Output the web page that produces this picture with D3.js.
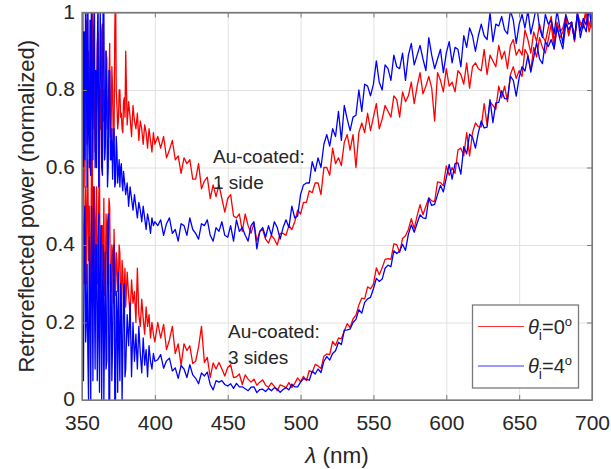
<!DOCTYPE html>
<html>
<head>
<meta charset="utf-8">
<script src="https://cdn.jsdelivr.net/npm/d3@7"></script>
<style>
  body { margin: 0; background: #fff; }
  svg text { font-family: "Liberation Sans", Arial, Helvetica, sans-serif; fill: #262626; }
</style>
</head>
<body>
<svg id="chart"></svg>
<script>
// Canvas size
const width = 611;
const height = 469;

// Wavelength grid of the spectra (finer where the signal is noisiest)
const wavelength = d3.range(350, 380, 0.5)
    .concat(d3.range(380, 400, 1))
    .concat(d3.range(400, 701, 2));

// Au-coated on 1 side, theta_i = 0 deg (red)
const oneSide0 = [
  .93,.7,.62,.85,.55,.78,.98,.66,.7,.9,
  .82,.6,.58,.88,1.02,.7,.9,.75,.64,.85,
  .75,.92,.95,.68,.6,.8,.7,.95,.97,.72,
  .8,.62,.66,.9,.88,.7,.74,.82,.92,.68,
  .7,.86,.8,.66,.68,.95,1.08,.8,.76,.7,
  .72,.8,.8,.73,.74,.7,.69,.77,.78,.73,
  .9,.71,.77,.73,.68,.76,.72,.7,.74,.67,
  .72,.7,.66,.71,.69,.65,.7,.67,.64,.69,
  .66,
  .68,.65,.68,.625,.645,.67,.62,.63,.585,.625,
  .61,.62,.57,.57,.61,.545,.565,.575,.52,.555,
  .525,.555,.52,.485,.52,.53,.475,.47,.48,.435,
  .48,.45,.43,.455,.41,.435,.44,.415,.405,.425,
  .415,.40,.43,.43,.425,.45,.44,.46,.49,.48,
  .51,.51,.54,.535,.56,.56,.53,.60,.60,.58,
  .65,.61,.625,.605,.665,.685,.645,.685,.60,.69,
  .715,.69,.74,.695,.73,.765,.70,.725,.76,.745,
  .73,.785,.775,.73,.795,.77,.785,.82,.765,.81,
  .845,.79,.81,.835,.805,.72,.845,.825,.795,.855,
  .81,.82,.795,.85,.84,.815,.87,.805,.86,.87,
  .855,.85,.905,.84,.89,.875,.86,.915,.88,.90,
  .855,.915,.93,.89,.905,.89,.955,.93,.895,.95,
  .925,.97,.94,.925,.96,.99,.925,.975,.95,.96,
  .99,.945,.975,.925,.99,.97,.96,1.0,.95,.98
];

// Au-coated on 1 side, theta_i = 4 deg (blue)
const oneSide4 = [
  .85,1.05,.6,.95,.62,1.1,.9,.55,1.08,.7,
  .6,.98,.58,1.1,.8,.62,.95,1.05,.6,.85,
  .6,.9,1.05,.55,.72,1.0,.9,.6,.58,1.05,
  1.02,.62,.66,.9,.78,.55,.6,.85,.85,.62,
  .62,.7,.57,.66,.7,.55,.56,.68,.64,.56,
  .59,.62,.55,.6,.61,.56,.54,.59,.57,.55,
  .53,.56,.5,.55,.52,.49,.53,.5,.47,.51,
  .49,.46,.5,.47,.44,.48,.46,.43,.47,.45,
  .46,
  .45,.465,.425,.455,.47,.43,.44,.41,.455,.45,
  .425,.47,.44,.43,.415,.455,.45,.465,.425,.41,
  .445,.435,.46,.425,.42,.45,.41,.465,.435,.445,
  .425,.41,.45,.46,.39,.435,.445,.42,.45,.425,
  .46,.445,.415,.445,.465,.445,.50,.47,.475,.53,
  .555,.56,.56,.615,.59,.625,.60,.66,.685,.655,
  .70,.68,.745,.67,.76,.725,.695,.73,.735,.80,
  .745,.815,.81,.785,.815,.875,.82,.80,.865,.855,
  .825,.89,.86,.855,.895,.825,.89,.92,.865,.89,
  .915,.88,.85,.935,.89,.855,.88,.905,.845,.895,
  .925,.87,.91,.905,.86,.94,.91,.96,.94,.90,
  .94,.97,.94,.93,1.0,.925,.97,.965,.99,.955,
  .945,1.005,.98,.92,.97,.995,.96,1.005,.945,.98,
  1.02,.96,.935,.995,.97,.98,.945,1.005,.96,.92,
  .995,.97,.975,.93,1.0,.935,.97,.95,1.01,.96
];

// Au-coated on 3 sides, theta_i = 0 deg (red)
const threeSides0 = [
  .45,.62,.7,.3,.38,.55,.3,.5,.62,.36,
  .5,.25,.35,.6,.68,.3,.42,.55,.28,.45,
  .55,.3,.36,.52,.6,.28,.3,.45,.45,.32,
  .52,.27,.3,.48,.42,.3,.35,.52,.5,.3,
  .28,.4,.38,.25,.44,.34,.27,.38,.36,.28,
  .31,.4,.38,.26,.26,.36,.33,.24,.29,.34,
  .24,.33,.27,.22,.31,.25,.28,.2,.34,.22,
  .19,.26,.21,.17,.24,.19,.22,.16,.2,.17,
  .15,
  .20,.16,.195,.13,.155,.19,.12,.145,.09,.145,
  .128,.14,.094,.10,.137,.19,.097,.11,.058,.096,
  .08,.097,.08,.062,.084,.091,.058,.06,.067,.04,
  .065,.054,.046,.054,.038,.046,.052,.038,.033,.044,
  .035,.024,.039,.036,.032,.045,.032,.043,.057,.047,
  .061,.05,.076,.071,.092,.088,.081,.113,.119,.117,
  .151,.141,.16,.158,.178,.197,.187,.209,.219,.245,
  .263,.261,.292,.287,.299,.341,.323,.341,.363,.365,
  .363,.403,.401,.381,.417,.424,.44,.468,.442,.476,
  .504,.478,.50,.522,.514,.512,.563,.561,.553,.604,
  .58,.60,.585,.645,.65,.63,.69,.63,.69,.715,
  .705,.705,.765,.71,.77,.76,.75,.81,.78,.81,
  .77,.84,.86,.83,.85,.835,.905,.89,.85,.91,
  .885,.935,.91,.895,.93,.97,.905,.96,.935,.95,
  .985,.94,.975,.93,.995,.975,.97,1.01,.965,.995
];

// Au-coated on 3 sides, theta_i = 4 deg (blue)
const threeSides4 = [
  .3,.1,.05,.45,.5,.15,.2,.35,.12,0,
  .42,.25,0,.5,.35,.05,.55,.3,.08,.4,
  .4,.05,.18,.48,.02,.3,.45,0,.25,.4,
  0,.2,.38,.08,.1,.45,.48,0,0,.35,
  .3,.05,.15,.38,.4,0,0,.28,.22,.02,
  .33,.15,.05,.3,.25,0,.12,.28,.3,.06,
  .08,.22,.14,.25,.06,.2,.1,.17,.08,.19,
  .12,.07,.16,.09,.13,.06,.14,.1,.08,.12,
  .1,
  .104,.117,.082,.101,.108,.075,.083,.056,.089,.08,
  .058,.091,.065,.056,.042,.07,.062,.072,.04,.026,
  .05,.046,.05,.04,.036,.042,.03,.043,.034,.034,
  .029,.024,.033,.034,.019,.027,.028,.022,.03,.024,
  .032,.028,.02,.027,.032,.026,.041,.034,.034,.046,
  .055,.053,.051,.075,.067,.08,.071,.10,.112,.103,
  .12,.127,.149,.143,.18,.181,.183,.20,.208,.233,
  .224,.252,.261,.265,.287,.314,.306,.312,.34,.348,
  .344,.385,.378,.384,.402,.386,.428,.452,.433,.456,
  .478,.47,.468,.52,.502,.505,.53,.554,.537,.573,
  .608,.57,.61,.612,.583,.654,.635,.686,.678,.65,
  .69,.72,.702,.704,.775,.716,.767,.768,.798,.778,
  .777,.836,.825,.784,.832,.86,.849,.888,.846,.884,
  .922,.88,.868,.925,.912,.93,.907,.964,.93,.906,
  .971,.956,.97,.934,.998,.952,.985,.968,1.02,.982
];

// Tick values
const xTicks = [350, 400, 450, 500, 550, 600, 650, 700];
const yTicks = [0, 0.2, 0.4, 0.6, 0.8, 1];

// Plot area
const margin = { top: 12.5, right: 19, bottom: 69, left: 82 };
const plotW = width - margin.left - margin.right;
const plotH = height - margin.top - margin.bottom;

const svg = d3.select("#chart")
    .attr("width", width)
    .attr("height", height);

const g = svg.append("g")
    .attr("transform", `translate(${margin.left},${margin.top})`);

const x = d3.scaleLinear().domain([350, 700]).range([0, plotW]);
const y = d3.scaleLinear().domain([0, 1]).range([plotH, 0]);

// Grid lines
g.append("g")
    .attr("class", "grid")
    .attr("transform", `translate(0,${plotH})`)
    .call(d3.axisBottom(x).tickValues(xTicks).tickSize(-plotH).tickFormat(""));
g.append("g")
    .attr("class", "grid")
    .call(d3.axisLeft(y).tickValues(yTicks).tickSize(-plotW).tickFormat(""));
g.selectAll(".grid .domain").remove();
g.selectAll(".grid line").attr("stroke", "#e2e2e2").attr("stroke-width", 1);

// Clip the spectra to the axes box
g.append("clipPath").attr("id", "clip")
  .append("rect").attr("width", plotW).attr("height", plotH);

const line = d3.line()
    .x((d, i) => x(wavelength[i]))
    .y(d => y(d));

const series = [
    { values: oneSide0, color: "#ff0000" },
    { values: threeSides0, color: "#ff0000" },
    { values: oneSide4, color: "#0000ff" },
    { values: threeSides4, color: "#0000ff" }
];

g.append("g").attr("clip-path", "url(#clip)")
  .selectAll("path")
  .data(series)
  .join("path")
    .attr("d", d => line(d.values))
    .attr("fill", "none")
    .attr("stroke", d => d.color)
    .attr("stroke-width", 1.3)
    .attr("stroke-linejoin", "round");

// Axes with inward ticks on all four sides
const axisColor = "#7a7a7a";
const fmt = d3.format("~g");

g.append("g")
    .attr("transform", `translate(0,${plotH})`)
    .call(d3.axisBottom(x).tickValues(xTicks).tickSizeInner(-5).tickSizeOuter(0).tickPadding(15));
g.append("g")
    .attr("class", "y-axis")
    .call(d3.axisLeft(y).tickValues(yTicks).tickFormat(fmt).tickSizeInner(-5).tickSizeOuter(0).tickPadding(7));
g.append("g")
    .call(d3.axisTop(x).tickValues(xTicks).tickSizeInner(-5).tickSizeOuter(0).tickFormat(""));
g.append("g")
    .attr("transform", `translate(${plotW},0)`)
    .call(d3.axisRight(y).tickValues(yTicks).tickSizeInner(-5).tickSizeOuter(0).tickFormat(""));

g.selectAll(".tick line").filter(function() { return !this.closest(".grid"); })
    .attr("stroke", axisColor);
g.selectAll(".domain").attr("stroke", axisColor);
g.selectAll(".tick text")
    .attr("font-size", 21)
    .attr("fill", "#262626");
g.selectAll(".y-axis .tick text").attr("dy", "0.28em");

g.append("rect")
    .attr("width", plotW)
    .attr("height", plotH)
    .attr("fill", "none")
    .attr("stroke", axisColor)
    .attr("stroke-width", 1.3);

// Axis labels
svg.append("text")
    .attr("transform", `translate(26,${margin.top + plotH / 2}) rotate(-90)`)
    .attr("text-anchor", "middle")
    .attr("dy", "0.35em")
    .attr("font-size", 22)
    .text("Retroreflected power (normalized)");

const xLabel = svg.append("text")
    .attr("x", margin.left + plotW / 2)
    .attr("y", 463)
    .attr("text-anchor", "middle")
    .attr("font-size", 22.5);
xLabel.append("tspan").attr("font-style", "italic").text("λ");
xLabel.append("tspan").text(" (nm)");

// Annotations
const notes = [
    { x: 213, y: 163, text: "Au-coated:" },
    { x: 213, y: 189, text: "1 side" },
    { x: 228, y: 338, text: "Au-coated:" },
    { x: 228, y: 364, text: "3 sides" }
];
svg.selectAll(".note")
  .data(notes)
  .join("text")
    .attr("class", "note")
    .attr("x", d => d.x)
    .attr("y", d => d.y)
    .attr("font-size", 19)
    .text(d => d.text);

// Legend
const legend = svg.append("g");
legend.append("rect")
    .attr("x", 472.5)
    .attr("y", 305)
    .attr("width", 106)
    .attr("height", 83)
    .attr("fill", "#fff")
    .attr("stroke", axisColor)
    .attr("stroke-width", 1.3);

const legendItems = [
    { color: "#ff0000", angle: "0", y: 326.5 },
    { color: "#0000ff", angle: "4", y: 366 }
];
legendItems.forEach(item => {
    legend.append("line")
        .attr("x1", 478).attr("x2", 524)
        .attr("y1", item.y).attr("y2", item.y)
        .attr("stroke", item.color)
        .attr("stroke-opacity", 0.8)
        .attr("stroke-width", 1.2);
    const t = legend.append("text")
        .attr("x", 528)
        .attr("y", item.y + 7)
        .attr("font-size", 20);
    t.append("tspan").attr("font-style", "italic").text("θ");
    t.append("tspan").attr("font-size", 14).attr("dy", 6).text("i");
    t.append("tspan").attr("dy", -6).text("=" + item.angle);
    t.append("tspan").attr("font-size", 13).attr("dy", -8).text("o");
});
</script>
</body>
</html>
